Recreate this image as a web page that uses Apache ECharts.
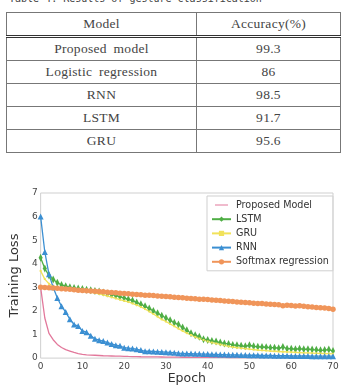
<!DOCTYPE html>
<html>
<head>
<meta charset="utf-8">
<script src="https://cdn.jsdelivr.net/npm/echarts@6/dist/echarts.min.js"></script>
<style>
  html, body { margin: 0; padding: 0; background: #fff; }
  #wrap { position: relative; width: 343px; height: 386px; overflow: hidden; }
  #caption { position: absolute; left: 9px; top: -7px; font: 10px "DejaVu Sans Mono", monospace; color: #444; white-space: pre; }
  #tbl { position: absolute; left: 6px; top: 12px; width: 335px; border-collapse: collapse;
         font-family: "Liberation Serif", "DejaVu Serif", serif; font-size: 13.5px; color: #444; letter-spacing: 0.3px; word-spacing: 3px; }
  #tbl td, #tbl th { border: 1px solid #777; height: 22px; padding: 0; text-align: center; font-weight: 400; }
  #tbl { border: 1.6px solid #333; }
  #tbl th { border-bottom: 3px double #333; }
  #tbl td:first-child, #tbl th:first-child { width: 189px; }
  #chart { position: absolute; left: 0; top: 0; width: 343px; height: 386px; }
</style>
</head>
<body>
<div id="wrap">
  <div id="caption"></div>
  <table id="tbl"></table>
  <div id="chart"></div>
</div>
<script>
// table data
const caption = 'Table 4. Results of gesture classification'
const tableHeader = ['Model', 'Accuracy(%)']
const models = ['Proposed model', 'Logistic regression', 'RNN', 'LSTM', 'GRU']
const accuracy = ['99.3', '86', '98.5', '91.7', '95.6']

// chart data (training loss per epoch)
const epochs = Array.from({ length: 71 }, (_, i) => i)
const xTicks = [0, 10, 20, 30, 40, 50, 60, 70]
const yTicks = [0, 1, 2, 3, 4, 5, 6, 7]
const seriesNames = ['Proposed Model', 'LSTM', 'GRU', 'RNN', 'Softmax regression']

const proposed = [
  3.0, 1.7, 1.05, 0.78, 0.58, 0.45, 0.36, 0.3, 0.24, 0.19,
  0.16, 0.14, 0.13, 0.12, 0.11, 0.1, 0.095, 0.09, 0.085, 0.08,
  0.075, 0.07, 0.066, 0.062, 0.058, 0.055, 0.052, 0.05, 0.048, 0.046,
  0.044, 0.042, 0.04, 0.038, 0.036, 0.035, 0.034, 0.032, 0.031, 0.03,
  0.029, 0.028, 0.028, 0.027, 0.027, 0.026, 0.026, 0.025, 0.025, 0.024,
  0.024, 0.023, 0.023, 0.022, 0.022, 0.021, 0.021, 0.02, 0.02, 0.02,
  0.019, 0.019, 0.018, 0.018, 0.018, 0.017, 0.017, 0.016, 0.016, 0.015, 0.015
]
const lstm = [
  4.25, 3.8, 3.5, 3.33, 3.2, 3.1, 3.05, 3.0, 2.97, 2.95,
  2.93, 2.9, 2.88, 2.85, 2.82, 2.78, 2.74, 2.7, 2.65, 2.6,
  2.55, 2.5, 2.44, 2.36, 2.28, 2.2, 2.1, 2.0, 1.9, 1.8,
  1.7, 1.6, 1.5, 1.42, 1.3, 1.18, 1.05, 0.97, 0.9, 0.8,
  0.77, 0.73, 0.7, 0.66, 0.62, 0.6, 0.56, 0.54, 0.52, 0.5,
  0.55, 0.5, 0.48, 0.47, 0.46, 0.44, 0.44, 0.42, 0.47, 0.4,
  0.4, 0.38, 0.4, 0.37, 0.38, 0.36, 0.35, 0.33, 0.34, 0.36, 0.3
]
const gru = [
  3.7, 3.35, 3.15, 3.05, 3.0, 2.97, 2.94, 2.92, 2.9, 2.88,
  2.85, 2.82, 2.8, 2.76, 2.72, 2.68, 2.63, 2.58, 2.53, 2.48,
  2.43, 2.38, 2.32, 2.25, 2.17, 2.08, 1.98, 1.87, 1.76, 1.64,
  1.55, 1.45, 1.35, 1.25, 1.15, 1.06, 0.98, 0.9, 0.83, 0.77,
  0.71, 0.66, 0.62, 0.58, 0.54, 0.5, 0.47, 0.44, 0.42, 0.4,
  0.38, 0.36, 0.34, 0.33, 0.32, 0.3, 0.29, 0.28, 0.27, 0.26,
  0.25, 0.24, 0.23, 0.22, 0.22, 0.21, 0.2, 0.2, 0.19, 0.19, 0.18
]
const rnn = [
  6.0, 4.5, 3.55, 3.0, 2.55, 2.2, 1.95, 1.65, 1.42, 1.36,
  1.15, 1.1, 0.95, 0.82, 0.76, 0.72, 0.66, 0.6, 0.55, 0.52,
  0.44, 0.42, 0.41, 0.37, 0.34, 0.29, 0.29, 0.28, 0.27, 0.26,
  0.25, 0.24, 0.23, 0.21, 0.2, 0.19, 0.19, 0.18, 0.18, 0.17,
  0.17, 0.16, 0.16, 0.15, 0.15, 0.14, 0.14, 0.14, 0.13, 0.13,
  0.12, 0.12, 0.12, 0.11, 0.11, 0.11, 0.1, 0.1, 0.1, 0.1,
  0.09, 0.09, 0.09, 0.09, 0.09, 0.08, 0.08, 0.08, 0.08, 0.08, 0.08
]
const softmax = [
  3.0, 2.99, 2.98, 2.97, 2.96, 2.94, 2.93, 2.92, 2.9, 2.88,
  2.87, 2.86, 2.85, 2.83, 2.82, 2.81, 2.79, 2.78, 2.77, 2.75,
  2.74, 2.73, 2.71, 2.7, 2.69, 2.67, 2.66, 2.65, 2.63, 2.62,
  2.61, 2.6, 2.58, 2.57, 2.56, 2.54, 2.53, 2.52, 2.5, 2.49,
  2.48, 2.46, 2.45, 2.44, 2.42, 2.41, 2.4, 2.38, 2.37, 2.36,
  2.35, 2.33, 2.32, 2.31, 2.29, 2.28, 2.27, 2.26, 2.22, 2.24,
  2.23, 2.21, 2.22, 2.2, 2.18, 2.17, 2.15, 2.14, 2.12, 2.1, 2.07
]

// build table
document.getElementById('caption').textContent = caption
const tbl = document.getElementById('tbl')
let html = '<tr><th>' + tableHeader[0] + '</th><th>' + tableHeader[1] + '</th></tr>'
models.forEach((m, i) => { html += '<tr><td>' + m + '</td><td>' + accuracy[i] + '</td></tr>' })
tbl.innerHTML = html

const pts = arr => epochs.map((e, i) => [e, arr[i]])

const chart = echarts.init(document.getElementById('chart'), null, { renderer: 'canvas' })
const line = (name, data, color, symbol, size) => ({
  name, type: 'line', data: pts(data),
  symbol, symbolSize: size, showSymbol: symbol !== 'none',
  lineStyle: { color, width: 1.3 },
  itemStyle: { color },
  emphasis: { disabled: true },
  animation: false
})

// plain line icon for the series without markers (tiny corner dots keep the box full height)
const lineOnlyIcon = 'path://M0,0L0.05,0L0.05,0.05ZM0,4.2H20V5.8H0ZM0,10L0.05,10L0.05,9.95Z'

chart.setOption({
  backgroundColor: 'transparent',
  textStyle: { fontFamily: 'DejaVu Sans' },
  grid: { left: 27, right: 10, top: 193, bottom: 25, show: true, borderColor: '#cfcfcf', borderWidth: 1 },
  legend: {
    orient: 'vertical', left: 207, top: 196,
    data: [{ name: seriesNames[0], icon: lineOnlyIcon }].concat(seriesNames.slice(1)),
    backgroundColor: '#fff', borderColor: '#cfcfcf', borderWidth: 1,
    padding: [3, 4, 3, 4], itemGap: 2.2, itemWidth: 19, itemHeight: 6.5,
    textStyle: { fontSize: 9.6, color: '#333', lineHeight: 12 }
  },
  xAxis: {
    type: 'value', min: 0, max: 70, interval: 10,
    axisLine: { show: false }, axisTick: { show: false }, splitLine: { show: false },
    axisLabel: { fontSize: 9, color: '#444', margin: 4, customValues: xTicks },
    name: 'Epoch', nameLocation: 'middle', nameGap: 10,
    nameTextStyle: { fontSize: 12.5, color: '#333', verticalAlign: 'top' }
  },
  yAxis: {
    type: 'value', min: 0, max: 7, interval: 1,
    axisLine: { show: false }, axisTick: { show: false }, splitLine: { show: false },
    axisLabel: { fontSize: 9, color: '#444', margin: 3, customValues: yTicks },
    name: 'Training Loss', nameLocation: 'middle', nameGap: 8,
    nameTextStyle: { fontSize: 13, color: '#333' }
  },
  series: [
    line(seriesNames[0], proposed, '#e2789b', 'none', 0),
    line(seriesNames[1], lstm, '#4fae45', 'diamond', [4, 8]),
    line(seriesNames[2], gru, '#f1e25a', 'rect', 2),
    line(seriesNames[3], rnn, '#3b8fd2', 'triangle', 6),
    line(seriesNames[4], softmax, '#f0955a', 'circle', 5.5)
  ]
})
</script>
</body>
</html>
